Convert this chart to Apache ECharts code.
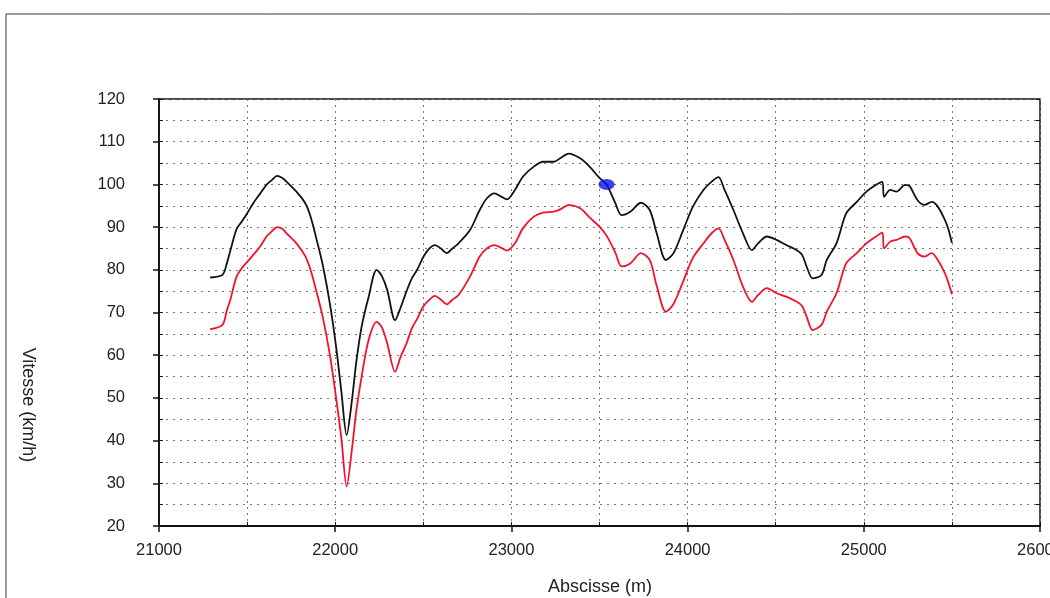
<!DOCTYPE html>
<html>
<head>
<meta charset="utf-8">
<script src="https://cdn.jsdelivr.net/npm/echarts@6/dist/echarts.min.js"></script>
<style>html,body{margin:0;padding:0;background:#fff;}#c{width:1050px;height:598px;}</style>
</head>
<body>
<div id="c"></div>
<script>
// Abscisse (m)
var distance = [21290,21360,21385,21405,21440,21470,21500,21535,21575,21610,21640,21670,21700,21725,21780,21830,21860,21895,21930,21970,22005,22035,22065,22095,22120,22150,22190,22235,22265,22295,22340,22370,22405,22435,22465,22500,22535,22565,22600,22633,22665,22700,22765,22820,22860,22905,22940,22975,23020,23065,23125,23180,23240,23280,23325,23390,23445,23500,23540,23590,23625,23675,23735,23785,23825,23877,23920,23975,24030,24090,24135,24175,24210,24260,24315,24365,24400,24450,24505,24560,24620,24650,24676,24710,24760,24790,24845,24900,24960,25015,25070,25105,25115,25150,25185,25235,25260,25305,25345,25385,25420,25460,25480,25500];
// Vitesse courbe noire (km/h)
var speedBlack = [78.2,78.8,81.5,84.5,89.5,91.3,93.2,95.6,97.9,99.9,101,102,101.5,100.6,98.3,95.6,92.5,87,81,72,62,51.5,41.3,49.5,58.5,66.7,73.7,80,78.5,75.3,68.2,71,75,78,80,83,85,85.8,85,83.9,85,86.2,89.3,94,96.7,97.9,97.2,96.5,98.7,101.8,104.1,105.3,105.3,106.2,107.2,106.1,104.1,101.5,100,95.6,92.8,93.6,95.7,94,88.5,82.3,83.9,89.3,94.8,98.7,100.6,101.7,98.7,94,88.5,84.6,86.2,87.8,87,85.8,84.6,83.5,80.7,78,78.8,82.3,86.2,93.2,95.9,98.3,99.9,100.6,97.1,98.7,98.3,99.9,99.6,96.3,95.2,95.9,94.8,91.7,89.5,86.3];
// Vitesse courbe rouge (km/h)
var speedRed = [66.1,67.1,70.5,73,78.4,80.4,81.8,83.5,85.5,87.8,89,90,89.6,88.5,86.2,83.2,80,74.7,68.8,60,50,40.5,29.3,38,47,55,63.6,67.8,66.5,62.8,56.1,59.5,62.8,66.3,68.5,71.4,73,73.9,73,71.9,73,74.1,78.4,83.1,85,85.8,85.2,84.5,86.2,89.7,92.4,93.4,93.6,94.2,95.2,94.4,92.2,90.1,88,84,80.8,81.5,83.9,82.3,76.2,70.2,72,77.3,82.8,86.2,88.5,89.7,87,82.3,76,72.5,74.1,75.7,74.5,73.7,72.5,71.5,69,65.9,67.1,70.2,74.5,81.5,83.9,86.2,87.8,88.7,85,86.6,87,87.8,87.4,83.9,83.1,83.9,82.3,79.2,77,74.3];
// Point bleu
var markerX = [23540];
var markerY = [100];

function pairs(xs, ys){ var out=[]; for(var i=0;i<xs.length;i++){ out.push([xs[i], ys[i]]); } return out; }

var chart = echarts.init(document.getElementById('c'), null, {renderer:'canvas'});
var font = 'Liberation Sans, Arial, sans-serif';
var dotted = {show:true, lineStyle:{color:'#777', width:1, type:[2,5]}};
var hidden = {show:false};
var plain = function(v){ return String(v); };
var option = {
  backgroundColor:'#fff',
  animation:false,
  grid:{left:159, right:10, top:99, bottom:72, containLabel:false, outerBoundsMode:'none',
        show:true, borderColor:'#111', borderWidth:1.5, backgroundColor:'transparent'},
  xAxis:[
    {type:'value', min:21000, max:26000, interval:1000, position:'bottom',
     axisLine:{show:true, lineStyle:{color:'#111', width:1.8}},
     axisTick:{show:true, length:6, inside:false, lineStyle:{color:'#111', width:1.5}},
     axisLabel:{show:true, margin:16, fontSize:16.5, color:'#222', fontFamily:font, formatter:plain, hideOverlap:false},
     splitLine:hidden},
    {type:'value', min:21000, max:26000, interval:500, position:'bottom',
     axisLine:hidden,
     axisTick:{show:true, length:4, inside:true, lineStyle:{color:'#111', width:1}},
     axisLabel:hidden,
     splitLine:{show:true, lineStyle:{color:'#777', width:1, type:[2,4]}}}
  ],
  yAxis:[
    {type:'value', min:20, max:120, interval:10, position:'left',
     axisLine:{show:true, lineStyle:{color:'#111', width:1.8}},
     axisTick:{show:true, length:6, inside:false, lineStyle:{color:'#111', width:1.5}},
     axisLabel:{show:true, margin:34, fontSize:16.5, color:'#222', fontFamily:font, formatter:plain},
     splitLine:hidden},
    {type:'value', min:20, max:120, interval:5, position:'left',
     axisLine:hidden,
     axisTick:{show:true, length:4, inside:true, lineStyle:{color:'#111', width:1}},
     axisLabel:hidden,
     splitLine:dotted},
    {type:'value', min:20, max:120, interval:5, position:'right',
     axisLine:hidden,
     axisTick:{show:true, length:4, inside:true, lineStyle:{color:'#111', width:1}},
     axisLabel:hidden,
     splitLine:hidden}
  ],
  series:[
    {type:'line', xAxisIndex:0, yAxisIndex:0, data:pairs(distance, speedBlack), showSymbol:false, symbol:'none', smooth:0.3,
     lineStyle:{color:'#111', width:1.8}, z:3},
    {type:'line', xAxisIndex:0, yAxisIndex:0, data:pairs(distance, speedRed), showSymbol:false, symbol:'none', smooth:0.3,
     lineStyle:{color:'#f5102a', width:1.8}, z:3},
    {type:'scatter', xAxisIndex:0, yAxisIndex:0, data:pairs(markerX, markerY), symbol:'circle', symbolSize:[16,11],
     itemStyle:{color:'#0a14e6'}, z:5}
  ],
  graphic:[
    {type:'rect', shape:{x:6, y:14, width:1200, height:800}, style:{fill:'none', stroke:'#333', lineWidth:1}, silent:true, z:-1},
    {type:'text', x:28, y:405, rotation:-Math.PI/2,
     style:{text:'Vitesse (km/h)', fontSize:18, fontFamily:font, fill:'#222', align:'center', verticalAlign:'middle'}},
    {type:'text', x:600, y:587,
     style:{text:'Abscisse (m)', fontSize:18, fontFamily:font, fill:'#222', align:'center', verticalAlign:'middle'}}
  ]
};
chart.setOption(option);
</script>
</body>
</html>
